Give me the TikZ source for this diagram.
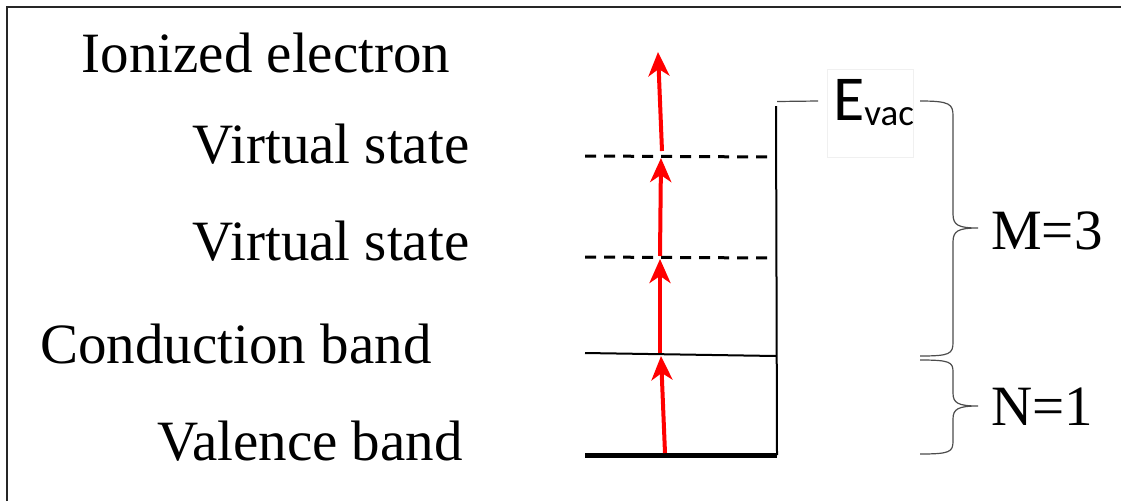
\documentclass[tikz,border=0pt]{standalone}
\usepackage{fontspec}
\setmainfont{Liberation Serif}
\newfontfamily\calfont{Carlito}
\usetikzlibrary{arrows.meta}
\tikzset{
  lbl/.style={font=\fontsize{57}{57}\selectfont, inner sep=0pt, anchor=base},
  rlbl/.style={font=\fontsize{57}{57}\selectfont, inner sep=0pt, anchor=base west},
  lvl/.style={line width=2pt},
  dlvl/.style={line width=3pt, dash pattern=on 11pt off 8pt},
  exc/.style={draw=red, line width=4pt, -{Stealth[length=24pt, width=21pt, inset=7pt]}},
  brc/.style={draw=black!70, line width=1.2pt},
  frm/.style={draw=black!85, line width=2pt}
}
\begin{document}
\begin{tikzpicture}[x=1pt,y=-1pt]
\useasboundingbox (0,0) rectangle (1121,501);
% frame
\draw[frm] (7,501) -- (7,7) -- (1121,7);
% labels
\node[lbl] (ion) at (266,72) {Ionized electron};
\node[lbl] (vs2) at (331,163) {Virtual state};
\node[lbl] (vs1) at (331,260) {Virtual state};
\node[lbl] (cb) at (236,363) {Conduction band};
\node[lbl] (vb) at (310,460) {Valence band};
% level coordinates
\coordinate (d2l) at (585,156); \coordinate (d2r) at (772,157);
\coordinate (d1l) at (585,257); \coordinate (d1r) at (772,258);
\coordinate (cl) at (585,353); \coordinate (cr) at (776,356);
\coordinate (vl) at (585,455); \coordinate (vr) at (777,455);
\coordinate (vtop) at (776,106);
% levels
\draw[dlvl] (d2l) -- (d2r);
\draw[dlvl] (d1l) -- (d1r);
\draw[lvl] (cl) -- (cr);
\draw[line width=5pt] (vl) -- (vr);
\draw[lvl] (vr) -- (vtop);
% Evac
\draw[black!6, line width=0.4pt] (827,69) rectangle (913,157);
\node[inner sep=0pt, anchor=base west, font=\calfont] (evac) at (833,120)
  {\fontsize{64}{64}\selectfont E\raisebox{-5pt}{\fontsize{37}{37}\selectfont vac}};
\coordinate (ea) at (777,101.5); \coordinate (eb) at (818,101);
\draw[brc] (ea) -- (eb);
% excitation arrows
\coordinate (a0) at (665,453); \coordinate (a1) at (661,356);
\coordinate (a2) at (660,353); \coordinate (a3) at (660,259);
\coordinate (a4) at (660,256); \coordinate (a5) at (661,158);
\coordinate (a6) at (662,151); \coordinate (a7) at (658,52);
\draw[exc] (a0) -- (a1);
\draw[exc] (a2) -- (a3);
\draw[exc] (a4) -- (a5);
\draw[exc] (a6) -- (a7);
% braces
\coordinate (mt) at (920,101); \coordinate (mtip) at (978,228); \coordinate (mb) at (920,356);
\draw[brc] (mt) .. controls (950,101) and (953,104) .. (953,116) -- (953,214)
  .. controls (953,225) and (958,228) .. (mtip)
  .. controls (958,228) and (953,231) .. (953,242) -- (953,342)
  .. controls (953,354) and (950,356) .. (mb);
\coordinate (nt) at (920,360); \coordinate (ntip) at (978,406); \coordinate (nb) at (920,454);
\draw[brc] (nt) .. controls (950,360) and (953,362) .. (953,372) -- (953,393)
  .. controls (953,403) and (958,406) .. (ntip)
  .. controls (958,406) and (953,409) .. (953,419) -- (953,441)
  .. controls (953,452) and (950,454) .. (nb);
\node[rlbl] (m3) at (991,249) {M=3};
\node[rlbl] (n1) at (991,425) {N=1};
\end{tikzpicture}
\end{document}
